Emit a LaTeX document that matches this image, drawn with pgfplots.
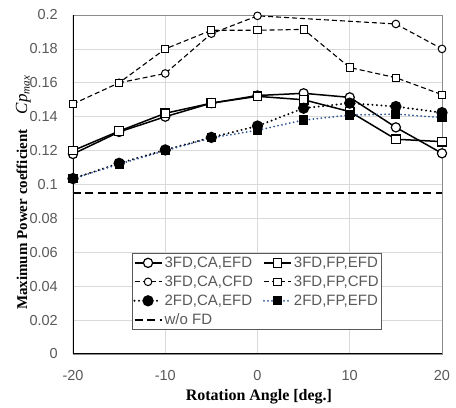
\documentclass[border=0pt]{standalone}
\usepackage{fontspec}
\setmainfont{Liberation Sans}
\newfontfamily\serif{Liberation Serif}
\usepackage{pgfplots}
\pgfplotsset{compat=1.18}
\definecolor{gridgray}{HTML}{D9D9D9}
\definecolor{ticktext}{HTML}{595959}
\definecolor{dotblue}{RGB}{47,85,151}
\begin{document}
\begin{tikzpicture}
\begin{axis}[
  scale only axis,
  width=369pt, height=339pt,
  xmin=-20, xmax=20, ymin=0, ymax=0.2,
  xtick={-20,-10,0,10,20},
  xticklabels={-20,-10,0,10,20},
  ytick={0,0.02,0.04,0.06,0.08,0.1,0.12,0.14,0.16,0.18,0.2},
  yticklabels={0,0.02,0.04,0.06,0.08,0.1,0.12,0.14,0.16,0.18,0.2},
  major tick length=0pt,
  grid=major,
  major grid style={draw=gridgray, line width=0.7pt},
  axis line style={draw=black!45, line width=0.8pt},
  tick label style={font=\fontsize{14.5}{16}\selectfont, text=ticktext},
  yticklabel style={anchor=east, inner sep=0pt, xshift=-15pt},
  xticklabel style={anchor=north, inner sep=0pt, yshift=-16pt},
  every axis x label/.style={at={(axis description cs:0.504,0)}, anchor=base, yshift=-47pt},
  every axis y label/.style={at={(axis description cs:-0.135,0.475)}, rotate=90, anchor=center},
  xlabel={\serif\bfseries\fontsize{16}{18}\selectfont Rotation Angle [deg.]},
  ylabel={\fontsize{15}{16}\selectfont{\serif\bfseries Maximum Power coefficient}\hspace{1em}{\serif\itshape\fontsize{17}{18}\selectfont Cp\raisebox{-0.35ex}{\fontsize{11}{12}\selectfont max}}},
  legend columns=2,
  legend style={at={(0.16,0.298)}, anchor=north west, draw=black!65, line width=0.8pt, fill=white,
    font=\fontsize{15}{17}\selectfont, text=ticktext, inner xsep=1pt, inner ysep=1.5pt, row sep=3pt,
    /tikz/every even column/.append style={column sep=8pt}},
  legend cell align=left,
  legend image code/.code={\draw[mark repeat=2,mark phase=2] plot coordinates {(0pt,0pt) (13.5pt,0pt) (27pt,0pt)};},
]
\coordinate (O) at (rel axis cs:0,0);
% 3FD,CA,EFD
\addplot[black, line width=1.5pt, mark=*, mark size=4.6pt, mark options={fill=white, line width=1.2pt, solid}]
  coordinates {(-20,0.118) (-15,0.131) (-10,0.140) (-5,0.148) (0,0.1525) (5,0.1538) (10,0.1514) (15,0.1337) (20,0.1184)};
\addlegendentry{3FD,CA,EFD}
% 3FD,FP,EFD
\addplot[black, line width=1.5pt, mark=square*, mark size=4.3pt, mark options={fill=white, line width=1.2pt, solid}]
  coordinates {(-20,0.120) (-15,0.1315) (-10,0.142) (-5,0.148) (0,0.152) (5,0.150) (10,0.143) (15,0.1267) (20,0.1253)};
\addlegendentry{3FD,FP,EFD}
% 3FD,CA,CFD
\addplot[black, line width=1.1pt, dash pattern=on 5pt off 3pt, mark=*, mark size=3.8pt, mark options={fill=white, line width=1pt, solid}]
  coordinates {(-15,0.160) (-10,0.1655) (-5,0.189) (0,0.1995) (15,0.1947) (20,0.180)};
\addlegendentry{3FD,CA,CFD}
% 3FD,FP,CFD
\addplot[black, line width=1.1pt, dash pattern=on 5pt off 3pt, mark=square*, mark size=3.6pt, mark options={fill=white, line width=1pt, solid}]
  coordinates {(-20,0.1475) (-15,0.160) (-10,0.180) (-5,0.191) (0,0.191) (5,0.1915) (10,0.169) (15,0.163) (20,0.153)};
\addlegendentry{3FD,FP,CFD}
% 2FD,CA,EFD
\addplot[black, line width=2.2pt, line cap=round, dash pattern=on 0pt off 4.5pt, mark=*, mark size=4.5pt, mark options={fill=black, solid}]
  coordinates {(-20,0.1035) (-15,0.1125) (-10,0.1204) (-5,0.1278) (0,0.1345) (5,0.145) (10,0.148) (15,0.146) (20,0.1424)};
\addlegendentry{2FD,CA,EFD}
% 2FD,FP,EFD
\addplot[dotblue, line width=2pt, line cap=round, dash pattern=on 0pt off 4pt, mark=square*, mark size=3.6pt, mark options={fill=black, draw=black, solid}]
  coordinates {(-20,0.1035) (-15,0.112) (-10,0.120) (-5,0.1275) (0,0.132) (5,0.138) (10,0.141) (15,0.1415) (20,0.1395)};
\addlegendentry{2FD,FP,EFD}
% w/o FD
\addplot[black, line width=2pt, dash pattern=on 8pt off 4.5pt]
  coordinates {(-20,0.0952) (20,0.0952)};
\addlegendentry{w/o FD}
\draw[black, line width=1.3pt] (rel axis cs:0,1) -- (rel axis cs:0,0) -- (rel axis cs:1,0);
\end{axis}
\path (O) ++(-73pt,-51pt) rectangle ++(456pt,405pt);
\end{tikzpicture}
\end{document}
